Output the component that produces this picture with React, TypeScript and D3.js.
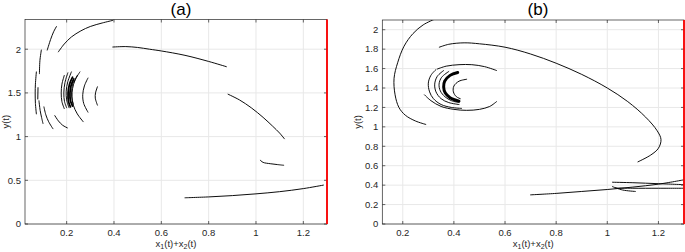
import React from 'react';
import * as d3 from 'd3';

type Pt = [number, number];

// ---------- axis settings ----------
const xTicksA = [0.2, 0.4, 0.6, 0.8, 1, 1.2];
const yTicksA = [0, 0.5, 1, 1.5, 2];
const xTicksB = [0.2, 0.4, 0.6, 0.8, 1, 1.2];
const yTicksB = [0, 0.2, 0.4, 0.6, 0.8, 1, 1.2, 1.4, 1.6, 1.8, 2];
const xDomainA: Pt = [0.024, 1.3];
const yDomainA: Pt = [0, 2.34];
const xDomainB: Pt = [0.12, 1.3];
const yDomainB: Pt = [0, 2.1];
const boundaryX = 1.3;

// ---------- panel (a) trajectories ----------
const aTopArc: Pt[] = [[0.165, 1.97], [0.19, 2.06], [0.22, 2.14], [0.26, 2.21], [0.3, 2.26], [0.35, 2.3], [0.395, 2.33]];
const aLongArc: Pt[] = [[0.395, 2.025], [0.45, 2.03], [0.5, 2.02], [0.55, 2.0], [0.6, 1.98], [0.7, 1.93], [0.8, 1.86], [0.875, 1.8]];
const aDescArc: Pt[] = [[0.882, 1.485], [0.93, 1.42], [0.98, 1.33], [1.03, 1.22], [1.07, 1.12], [1.1, 1.04], [1.12, 0.975]];
const aShortArc: Pt[] = [[1.018, 0.73], [1.03, 0.705], [1.06, 0.69], [1.09, 0.68], [1.117, 0.672]];
const aBottomArc: Pt[] = [[0.7, 0.3], [0.8, 0.31], [0.9, 0.325], [1.0, 0.345], [1.1, 0.37], [1.2, 0.405], [1.285, 0.445]];
const aOuter1: Pt[] = [[0.157, 2.26], [0.145, 2.2], [0.132, 2.11], [0.118, 1.99]];
const aOuter2: Pt[] = [[0.093, 1.99], [0.087, 1.87], [0.085, 1.72]];
const aOuter3: Pt[] = [[0.072, 1.74], [0.068, 1.6], [0.067, 1.5], [0.068, 1.38], [0.072, 1.26]];
const aOuter4: Pt[] = [[0.079, 1.56], [0.078, 1.43]];
const aOuter5: Pt[] = [[0.083, 1.41], [0.088, 1.3], [0.094, 1.22], [0.1, 1.15]];
const aOuter6: Pt[] = [[0.104, 1.34], [0.112, 1.25], [0.124, 1.17], [0.142, 1.09]];
const aOuter7: Pt[] = [[0.15, 1.24], [0.165, 1.18], [0.183, 1.13], [0.203, 1.1]];
const aCore1: Pt[] = [[0.19, 1.7], [0.18, 1.6], [0.177, 1.5], [0.18, 1.4], [0.19, 1.32]];
const aCore2: Pt[] = [[0.205, 1.73], [0.193, 1.62], [0.188, 1.5], [0.191, 1.4], [0.2, 1.33]];
const aCore3: Pt[] = [[0.22, 1.74], [0.205, 1.63], [0.198, 1.52], [0.2, 1.42], [0.21, 1.33]];
const aCore4: Pt[] = [[0.225, 1.68], [0.212, 1.6], [0.206, 1.5], [0.208, 1.4], [0.216, 1.34]];
const aCore5: Pt[] = [[0.23, 1.66], [0.218, 1.58], [0.214, 1.5], [0.216, 1.41], [0.225, 1.35]];
const aCore6: Pt[] = [[0.228, 1.64], [0.222, 1.55], [0.222, 1.45], [0.228, 1.37]];
const aCore7: Pt[] = [[0.256, 1.74], [0.236, 1.65], [0.225, 1.55], [0.222, 1.46], [0.228, 1.36], [0.245, 1.26], [0.27, 1.17]];
const aCore8: Pt[] = [[0.245, 1.7], [0.23, 1.62]];
const aRight1: Pt[] = [[0.29, 1.67], [0.275, 1.58], [0.268, 1.48], [0.272, 1.38], [0.29, 1.28]];
const aRight2: Pt[] = [[0.33, 1.57], [0.322, 1.5], [0.321, 1.44], [0.33, 1.36]];

const thinA = [aTopArc, aLongArc, aDescArc, aShortArc, aBottomArc, aOuter1, aOuter2, aOuter3, aOuter4,
  aOuter5, aOuter6, aOuter7, aCore1, aCore2, aCore3, aCore6, aCore7, aCore8, aRight1, aRight2];
const thickA = [aCore4, aCore5];

// ---------- panel (b) trajectories ----------
const bLeftArc: Pt[] = [[0.326, 2.11], [0.28, 2.05], [0.24, 1.96], [0.205, 1.83], [0.18, 1.66], [0.166, 1.5], [0.17, 1.33], [0.185, 1.2], [0.21, 1.12], [0.25, 1.06], [0.29, 1.025]];
const bLoop: Pt[] = [[0.343, 1.82], [0.38, 1.85], [0.44, 1.865], [0.5, 1.855], [0.6, 1.82], [0.7, 1.75], [0.8, 1.655], [0.9, 1.54], [1.0, 1.4], [1.08, 1.26], [1.15, 1.1], [1.195, 0.96], [1.21, 0.87], [1.2, 0.78], [1.17, 0.71], [1.12, 0.64]];
const bBottomArc: Pt[] = [[0.7, 0.3], [0.8, 0.315], [0.9, 0.335], [1.0, 0.355], [1.1, 0.38], [1.2, 0.41], [1.3, 0.455]];
const bTail1: Pt[] = [[1.02, 0.43], [1.1, 0.425], [1.2, 0.415], [1.3, 0.405]];
const bTail2: Pt[] = [[1.02, 0.385], [1.06, 0.35], [1.11, 0.335]];
const bTail3: Pt[] = [[1.03, 0.37], [1.1, 0.368], [1.2, 0.368], [1.3, 0.368]];
const bOuterTop: Pt[] = [[0.335, 1.595], [0.37, 1.625], [0.42, 1.64], [0.47, 1.64], [0.52, 1.62], [0.567, 1.58]];
const bOuterBottom: Pt[] = [[0.285, 1.33], [0.31, 1.27], [0.35, 1.21], [0.4, 1.18], [0.45, 1.17], [0.5, 1.18], [0.54, 1.21], [0.567, 1.26]];
const bRing1: Pt[] = [[0.33, 1.59], [0.31, 1.53], [0.3, 1.45], [0.305, 1.36], [0.32, 1.29], [0.35, 1.23], [0.39, 1.2], [0.43, 1.19]];
const bRing2: Pt[] = [[0.36, 1.58], [0.335, 1.52], [0.325, 1.44], [0.33, 1.36], [0.35, 1.29], [0.38, 1.25], [0.42, 1.23]];
const bRing3: Pt[] = [[0.38, 1.57], [0.352, 1.51], [0.342, 1.44], [0.347, 1.37], [0.365, 1.31], [0.39, 1.27], [0.42, 1.25]];
const bCore: Pt[] = [[0.415, 1.56], [0.385, 1.53], [0.364, 1.47], [0.36, 1.41], [0.366, 1.35], [0.385, 1.3], [0.42, 1.265]];
const bInner: Pt[] = [[0.45, 1.49], [0.42, 1.47], [0.4, 1.42], [0.398, 1.36], [0.41, 1.31], [0.425, 1.29]];

const thinB = [bLeftArc, bLoop, bBottomArc, bTail1, bTail2, bTail3, bOuterTop, bOuterBottom, bRing1, bRing2, bRing3, bInner];
const thickB = [bCore];

const FONT = "'Liberation Sans', Arial, Helvetica, sans-serif";
const AX = '#262626';

interface PanelProps {
  id: string; title: string; left: number; right: number; top: number; bottom: number;
  xDomain: Pt; yDomain: Pt; xTicks: number[]; yTicks: number[];
  thin: Pt[][]; thick: Pt[][]; thickW: number; titleX: number; labelX: number;
}

function Panel(p: PanelProps) {
  const x = d3.scaleLinear().domain(p.xDomain).range([p.left, p.right]);
  const y = d3.scaleLinear().domain(p.yDomain).range([p.bottom, p.top]);
  const line = d3.line<Pt>().x(d => x(d[0])).y(d => y(d[1])).curve(d3.curveCatmullRom.alpha(0.5));
  const tl = 3;
  const cx = (p.left + p.right) / 2;
  const cy = (p.top + p.bottom) / 2;
  return (
    <g>
      <defs>
        <clipPath id={`clip-${p.id}`}>
          <rect x={p.left} y={p.top} width={p.right - p.left} height={p.bottom - p.top} />
        </clipPath>
      </defs>
      <rect x={p.left} y={p.top} width={p.right - p.left} height={p.bottom - p.top} fill="#fff" />
      {p.xTicks.map(t => (
        <line key={`gx${t}`} x1={x(t)} x2={x(t)} y1={p.top} y2={p.bottom} stroke="#e8e8e8" strokeWidth={1} />
      ))}
      {p.yTicks.map(t => (
        <line key={`gy${t}`} x1={p.left} x2={p.right} y1={y(t)} y2={y(t)} stroke="#e8e8e8" strokeWidth={1} />
      ))}
      <g clipPath={`url(#clip-${p.id})`} fill="none" stroke="#000" strokeLinecap="round">
        {p.thin.map((c, i) => <path key={`t${i}`} d={line(c) || ''} strokeWidth={0.95} />)}
        {p.thick.map((c, i) => <path key={`k${i}`} d={line(c) || ''} strokeWidth={p.thickW} />)}
      </g>
      <rect x={p.left} y={p.top} width={p.right - p.left} height={p.bottom - p.top} fill="none" stroke={AX} strokeWidth={0.7} />
      {p.xTicks.map(t => (
        <g key={`tx${t}`}>
          <line x1={x(t)} x2={x(t)} y1={p.bottom} y2={p.bottom - tl} stroke={AX} strokeWidth={0.7} />
          <line x1={x(t)} x2={x(t)} y1={p.top} y2={p.top + tl} stroke={AX} strokeWidth={0.7} />
          <text x={x(t)} y={p.bottom + 12} textAnchor="middle" fontSize={9.5} fill={AX} fontFamily={FONT}>{String(t)}</text>
        </g>
      ))}
      {p.yTicks.map(t => (
        <g key={`ty${t}`}>
          <line x1={p.left} x2={p.left + tl} y1={y(t)} y2={y(t)} stroke={AX} strokeWidth={0.7} />
          <line x1={p.right} x2={p.right - tl} y1={y(t)} y2={y(t)} stroke={AX} strokeWidth={0.7} />
          <text x={p.left - 4} y={y(t) + 3.3} textAnchor="end" fontSize={9.5} fill={AX} fontFamily={FONT}>{String(t)}</text>
        </g>
      ))}
      <line x1={x(boundaryX)} x2={x(boundaryX)} y1={p.top} y2={p.bottom} stroke="#ff0000" strokeWidth={1.8} />
      <text x={p.titleX} y={14.5} textAnchor="middle" fontSize={17} fill="#000" fontFamily={FONT}>{p.title}</text>
      <text x={cx} y={p.bottom + 22.5} textAnchor="middle" fontSize={9.5} fill={AX} fontFamily={FONT}>
        x<tspan fontSize={7} dy={2.5}>1</tspan><tspan dy={-2.5}>(t)+x</tspan><tspan fontSize={7} dy={2.5}>2</tspan><tspan dy={-2.5}>(t)</tspan>
      </text>
      <text transform={`translate(${p.labelX},${cy}) rotate(-90)`} textAnchor="middle" fontSize={9.5} fill={AX} fontFamily={FONT}>y(t)</text>
    </g>
  );
}

export default function App() {
  return (
    <svg width={685} height={252} style={{ position: 'absolute', left: 0, top: 0, background: '#fff' }}>
      <rect x={0} y={0} width={685} height={252} fill="#fff" />
      <Panel id="a" title="(a)" left={25} right={327} top={19.5} bottom={224}
        xDomain={xDomainA} yDomain={yDomainA} xTicks={xTicksA} yTicks={yTicksA}
        thin={thinA} thick={thickA} thickW={1.8} titleX={181} labelX={9} />
      <Panel id="b" title="(b)" left={382.3} right={684} top={20} bottom={224}
        xDomain={xDomainB} yDomain={yDomainB} xTicks={xTicksB} yTicks={yTicksB}
        thin={thinB} thick={thickB} thickW={3} titleX={538} labelX={361} />
    </svg>
  );
}
